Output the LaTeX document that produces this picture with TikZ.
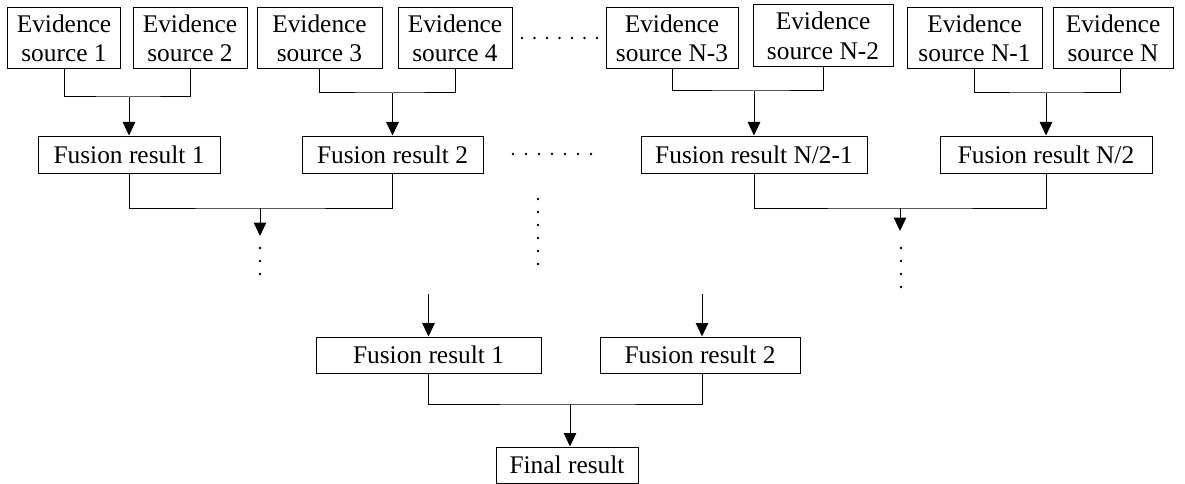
\documentclass[tikz,border=0pt]{standalone}
\usepackage{fontspec}
\setmainfont{Liberation Serif}
\usetikzlibrary{arrows.meta}
\begin{document}
\begin{tikzpicture}[x=1pt,y=-1pt,
  box/.style={draw, line width=1pt, inner sep=0pt, align=center,
    font=\fontsize{25.4}{29.5}\selectfont},
  ev/.style={box, minimum height=61pt},
  fu/.style={box, minimum height=37pt},
  ln/.style={line width=1pt},
  arr/.style={line width=1pt, -{Triangle[length=13.5pt,width=12.5pt]}},
  dotm/.style={fill=black}
]
\useasboundingbox (0,0) rectangle (1185,484);
% evidence sources
\node[ev, minimum width=113pt] (s1) at (64,38.5) {Evidence\\source 1};
\node[ev, minimum width=114pt] (s2) at (190,38.5) {Evidence\\source 2};
\node[ev, minimum width=125pt] (s3) at (319.5,38.5) {Evidence\\source 3};
\node[ev, minimum width=114pt] (s4) at (455,38.5) {Evidence\\source 4};
\node[ev, minimum width=132pt] (s5) at (672,38.5) {Evidence\\source N-3};
\node[ev, minimum width=140pt, minimum height=62pt] (s6) at (823,36) {Evidence\\source N-2};
\node[ev, minimum width=135pt] (s7) at (974.5,38.5) {Evidence\\source N-1};
\node[ev, minimum width=120pt] (s8) at (1113,38.5) {Evidence\\source N};
% first-level fusion results
\node[fu, minimum width=182pt] (f1) at (129,154.5) {Fusion result 1};
\node[fu, minimum width=181pt] (f2) at (392.5,154.5) {Fusion result 2};
\node[fu, minimum width=226pt] (f3) at (754,154.5) {Fusion result N/2-1};
\node[fu, minimum width=212pt] (f4) at (1046,154.5) {Fusion result N/2};
% last-level fusion results
\node[fu, minimum width=225pt, minimum height=36pt] (g1) at (428.5,355) {Fusion result 1};
\node[fu, minimum width=200pt, minimum height=36pt] (g2) at (700,355) {Fusion result 2};
\node[fu, minimum width=142pt, minimum height=36pt] (fin) at (567,465) {Final result};
% junctions
\coordinate (j1) at (129,97);
\coordinate (j2) at (392.5,93);
\coordinate (j3) at (754,91);
\coordinate (j4) at (1046,93);
\draw[ln] (s1.south) |- (j1) -| (s2.south);
\draw[arr] (j1) -- (f1.north);
\draw[ln] (s3.south) |- (j2) -| (s4.south);
\draw[arr] (j2) -- (f2.north);
\draw[ln] (s5.south) |- (j3) -| (s6.south);
\draw[arr] (j3) -- (f3.north);
\draw[ln] ([xshift=7pt]s8.south) |- (j4) -| (s7.south);
\draw[arr] (j4) -- (f4.north);
% second level
\coordinate (k1) at (260,208);
\coordinate (k1e) at (260,236);
\draw[ln] (f1.south) |- (k1) -| (f2.south);
\draw[arr] (k1) -- (k1e);
\coordinate (k2) at (900,208);
\coordinate (k2e) at (900,231);
\draw[ln] (f3.south) |- (k2) -| (f4.south);
\draw[arr] (k2) -- (k2e);
% bottom inputs
\coordinate (a1) at (428.5,294);
\coordinate (a2) at (702,294);
\draw[arr] (a1) -- (g1.north);
\draw[arr] (a2) -- ([xshift=2pt]g2.north);
\coordinate (m) at (570,404);
\draw[ln] (g1.south) |- (m) -| ([xshift=2pt]g2.south);
\draw[arr] (m) -- (m |- fin.north);
% dots
\foreach \x in {522,534.5,547,559.5,572,584.5,597} \fill[dotm] (\x,38) circle (1.3pt);
\foreach \x in {513,526,539,552,565,578,591} \fill[dotm] (\x,154) circle (1.3pt);
\foreach \y in {248,261,274} \fill[dotm] (260,\y) circle (1.3pt);
\foreach \y in {199,212,225,238,251,264} \fill[dotm] (538,\y) circle (1.3pt);
\foreach \y in {248,261,274,287} \fill[dotm] (901,\y) circle (1.3pt);
\end{tikzpicture}
\end{document}
